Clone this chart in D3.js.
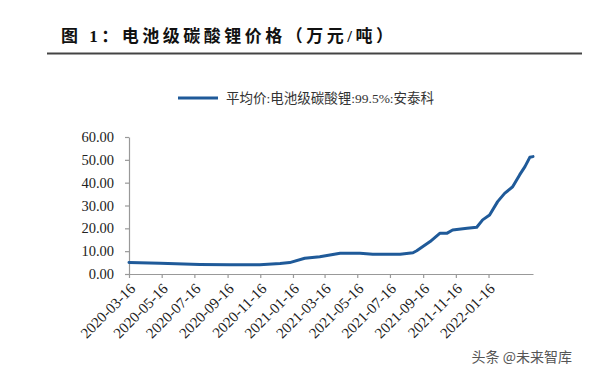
<!DOCTYPE html>
<html>
<head>
<meta charset="utf-8">
<script src="https://cdn.jsdelivr.net/npm/d3@7"></script>
<style>
  body { margin: 0; background: #fff; }
</style>
</head>
<body>
<svg id="chart" width="600" height="375"></svg>
<script>
// 电池级碳酸锂 平均价 (万元/吨)
const dates = [
  '2020-03-16','2020-05-13','2020-07-26','2020-09-20','2020-11-15','2020-12-23',
  '2021-01-10','2021-02-07','2021-03-07','2021-03-26','2021-04-14','2021-05-21',
  '2021-06-14','2021-08-04','2021-08-28','2021-09-04','2021-09-29','2021-10-17',
  '2021-10-30','2021-11-10','2021-12-07','2021-12-25','2022-01-05','2022-01-18',
  '2022-02-02','2022-02-15','2022-03-02','2022-03-15','2022-03-25','2022-04-03',
  '2022-04-09'
]
const prices = [
  5.0, 4.7, 4.2, 4.0, 4.1, 4.6,
  5.0, 6.9, 7.6, 8.3, 9.1, 9.1,
  8.6, 8.6, 9.3, 10.2, 14.2, 17.8,
  17.8, 19.3, 20.0, 20.5, 23.7, 25.8,
  31.7, 35.3, 38.2, 43.4, 47.0, 51.1,
  51.4
]
const xTickLabels = ['2020-03-16','2020-05-16','2020-07-16','2020-09-16','2020-11-16',
  '2021-01-16','2021-03-16','2021-05-16','2021-07-16','2021-09-16','2021-11-16','2022-01-16']
const yTicks = [0, 10, 20, 30, 40, 50, 60]

const title = '图 1：电池级碳酸锂价格（万元/吨）'
const legendLabel = '平均价:电池级碳酸锂:99.5%:安泰科'
const source = '头条 @未来智库'

const parse = d3.timeParse('%Y-%m-%d')
const data = dates.map((d, i) => [parse(d), prices[i]])

const svg = d3.select('#chart')
const serif = '"Liberation Serif", "Times New Roman", serif'
const mixed = '"Liberation Serif", "Noto Sans CJK SC", serif'
const cjk = '"Noto Sans CJK SC", sans-serif'

// title + rule
svg.append('text')
  .attr('x', 61).attr('y', 42)
  .attr('font-family', mixed)
  .attr('font-weight', 'bold')
  .attr('font-size', 17)
  .attr('letter-spacing', 3.5)
  .attr('fill', '#111')
  .text(title)

svg.append('line')
  .attr('x1', 47).attr('x2', 582)
  .attr('y1', 53.5).attr('y2', 53.5)
  .attr('stroke', '#444')
  .attr('stroke-width', 2)

// legend
svg.append('line')
  .attr('x1', 178).attr('x2', 218)
  .attr('y1', 98).attr('y2', 98)
  .attr('stroke', '#1f5a99')
  .attr('stroke-width', 3)

svg.append('text')
  .attr('x', 226).attr('y', 103)
  .attr('font-family', mixed)
  .attr('font-size', 13.5)
  .attr('fill', '#333')
  .text(legendLabel)

const x0 = 129, x1 = 533, yTop = 137, yBot = 274

const xScale = d3.scaleTime()
  .domain([parse('2020-03-16'), parse('2022-04-09')])
  .range([x0, x1])

const yScale = d3.scaleLinear()
  .domain([0, 60])
  .range([yBot, yTop])

const xAxis = d3.axisBottom(xScale)
  .tickValues(xTickLabels.map(parse))
  .tickSize(4)
  .tickSizeOuter(0)
  .tickFormat(d3.timeFormat('%Y-%m-%d'))

const yAxis = d3.axisLeft(yScale)
  .tickValues(yTicks)
  .tickSize(4)
  .tickSizeOuter(0)
  .tickFormat(d3.format('.2f'))

const gx = svg.append('g')
  .attr('transform', `translate(0,${yBot})`)
  .call(xAxis)

gx.selectAll('text')
  .attr('font-family', serif)
  .attr('font-size', 15)
  .attr('fill', '#222')
  .attr('text-anchor', 'end')
  .attr('x', 0).attr('y', 0)
  .attr('dy', '0.35em')
  .attr('transform', 'translate(3,12) rotate(-45)')

const gy = svg.append('g')
  .attr('transform', `translate(${x0},0)`)
  .call(yAxis)

gy.selectAll('text')
  .attr('font-family', serif)
  .attr('font-size', 14.5)
  .attr('fill', '#222')
  .attr('x', -15)

svg.selectAll('.domain, .tick line')
  .attr('stroke', '#999')
  .attr('stroke-width', 1.2)

// series line
const line = d3.line()
  .x(d => xScale(d[0]))
  .y(d => yScale(d[1]))

svg.append('path')
  .datum(data)
  .attr('fill', 'none')
  .attr('stroke', '#1f5a99')
  .attr('stroke-width', 3)
  .attr('stroke-linejoin', 'round')
  .attr('stroke-linecap', 'round')
  .attr('d', line)

// watermark
svg.append('text')
  .attr('x', 572).attr('y', 362)
  .attr('text-anchor', 'end')
  .attr('font-family', cjk)
  .attr('font-size', 14)
  .attr('fill', '#555')
  .text(source)
</script>
</body>
</html>
